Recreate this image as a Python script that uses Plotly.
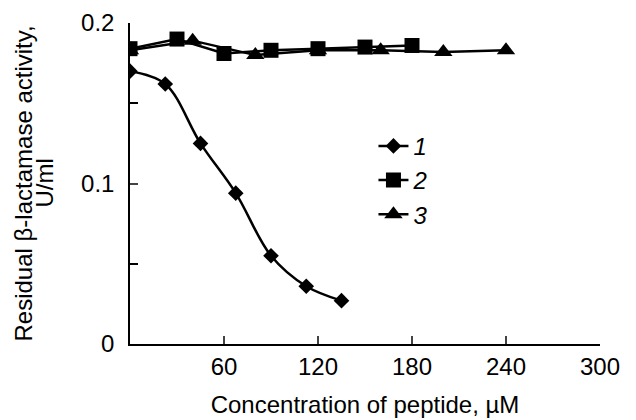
import plotly.graph_objects as go

# Data
x1 = [0, 22.5, 45, 67.5, 90, 112.5, 135]
y1 = [0.170, 0.162, 0.125, 0.094, 0.055, 0.036, 0.027]

x2 = [0, 30, 60, 90, 120, 150, 180]
y2 = [0.184, 0.190, 0.181, 0.183, 0.184, 0.185, 0.186]

x3 = [0, 40, 80, 120, 160, 200, 240]
y3 = [0.183, 0.189, 0.180, 0.183, 0.183, 0.182, 0.183]

names = ["<i>1</i>", "<i>2</i>", "<i>3</i>"]
x_ticks = [60, 120, 180, 240, 300]
y_ticks = [0, 0.1, 0.2]
y_minor = [0.05, 0.15]
y_title_lines = ["Residual β-lactamase activity,", "U/ml"]
x_title = "Concentration of peptide, µM"

FONT = "Liberation Sans, Arial, sans-serif"
FS = 24

fig = go.Figure()
fig.add_trace(go.Scatter(
    x=x1, y=y1, name=names[0], mode="lines+markers", legendgroup="a", legendrank=1,
    line=dict(color="black", width=2.5, shape="spline", smoothing=1.0),
    marker=dict(symbol="diamond", size=12, color="black"),
))
fig.add_trace(go.Scatter(
    x=x3, y=y3, name=names[2], mode="lines+markers", legendgroup="c", legendrank=3,
    line=dict(color="black", width=2.5),
    marker=dict(symbol="triangle-up", size=16, color="black"),
))
fig.add_trace(go.Scatter(
    x=x2, y=y2, name=names[1], mode="lines+markers", legendgroup="b", legendrank=2,
    line=dict(color="black", width=2.5),
    marker=dict(symbol="square", size=15, color="black"),
))

# two-line y title with tight line spacing
ann = []
for txt, shift in zip(y_title_lines, [-107, -86]):
    ann.append(dict(
        text=txt, xref="paper", yref="paper", x=0, y=0.5, xanchor="center", yanchor="middle",
        xshift=shift, textangle=-90, showarrow=False,
        font=dict(family=FONT, size=FS, color="black"),
    ))

fig.update_layout(
    width=636, height=420,
    margin=dict(l=122, r=44, t=15, b=84),
    paper_bgcolor="white", plot_bgcolor="white",
    font=dict(family=FONT, size=FS, color="black"),
    showlegend=True,
    annotations=ann,
    legend=dict(
        x=0.518, y=0.51, xanchor="left", yanchor="middle",
        bgcolor="rgba(0,0,0,0)", tracegroupgap=14,
        font=dict(family=FONT, size=FS, color="black"),
        traceorder="normal",
    ),
    xaxis=dict(
        range=[0, 300], tickvals=x_ticks, ticks="inside", ticklen=8, tickwidth=1.5,
        showline=True, linecolor="black", linewidth=1.5, showgrid=False, zeroline=False,
        automargin=False, ticklabelstandoff=0, ticklabeloverflow="allow",
        title=dict(text=x_title, standoff=18, font=dict(size=FS)),
        tickfont=dict(size=FS),
    ),
    yaxis=dict(
        range=[0, 0.2], tickvals=y_ticks, ticktext=["0", "0.1", "0.2"], ticks="inside",
        ticklen=8, tickwidth=1.5,
        minor=dict(tickvals=y_minor, ticks="inside", ticklen=8, tickwidth=1.5, tickcolor="black"),
        showline=True, linecolor="black", linewidth=1.5, showgrid=False, zeroline=False,
        automargin=False, ticklabelstandoff=9, ticklabeloverflow="allow",
        tickfont=dict(size=FS),
    ),
)

fig.write_html("out.html")
